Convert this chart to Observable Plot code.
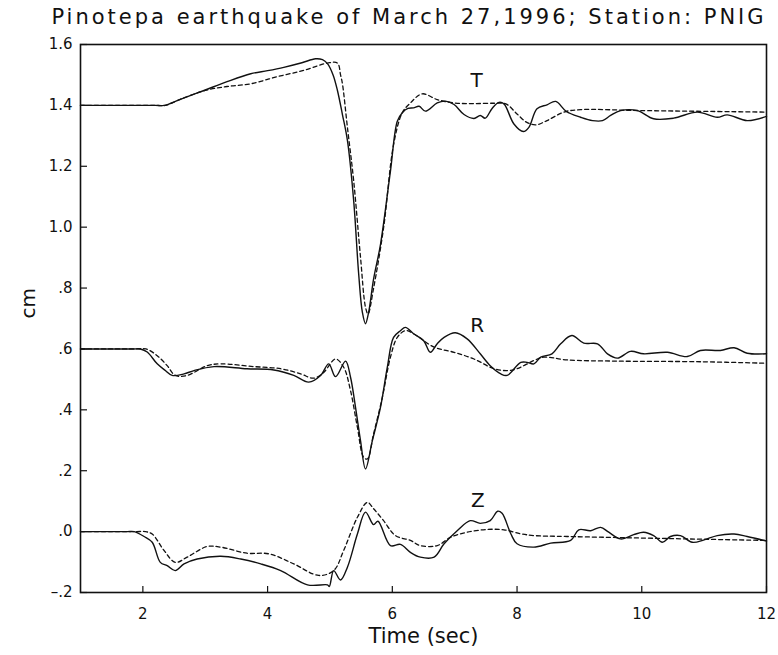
<!DOCTYPE html>
<html>
<head>
<meta charset="utf-8">
<script src="https://cdn.jsdelivr.net/npm/d3@7"></script>
<script src="https://cdn.jsdelivr.net/npm/@observablehq/plot@0.6"></script>
<style>
  body { margin: 0; background: #fff; }
  #title { width: 778px; height: 30px; box-sizing: border-box; padding-left: 40px; text-align: center;
           font-family: "DejaVu Sans", sans-serif; font-size: 21px; letter-spacing: 3px; line-height: 34px; color: #111; white-space: nowrap; }
  #chart svg { display: block; }
</style>
</head>
<body>
<div id="title">Pinotepa earthquake of March 27,1996; Station: PNIG</div>
<div id="chart"></div>
<script>
// ---- Data (time in sec, displacement in cm, with component offsets as plotted) ----
const obsT = [[1,1.4],[1.7,1.4],[2.2,1.4],[2.34,1.4],[2.6,1.42],[2.98,1.449],[3.35,1.478],[3.73,1.504],[4.0,1.514],[4.26,1.525],[4.55,1.54],[4.77,1.553],[4.88,1.55],[4.96,1.537],[5.05,1.5],[5.12,1.449],[5.2,1.37],[5.28,1.285],[5.38,1.088],[5.46,0.848],[5.52,0.72],[5.57,0.683],[5.62,0.72],[5.7,0.83],[5.81,0.943],[5.97,1.184],[6.08,1.348],[6.16,1.376],[6.25,1.39],[6.34,1.392],[6.43,1.397],[6.53,1.381],[6.72,1.408],[6.85,1.414],[6.99,1.403],[7.15,1.370],[7.31,1.357],[7.41,1.367],[7.49,1.358],[7.6,1.39],[7.71,1.410],[7.79,1.405],[7.95,1.339],[8.10,1.314],[8.19,1.328],[8.32,1.389],[8.48,1.402],[8.62,1.413],[8.79,1.380],[9.02,1.361],[9.21,1.350],[9.37,1.350],[9.50,1.367],[9.66,1.383],[9.93,1.383],[10.19,1.356],[10.51,1.358],[10.89,1.378],[11.21,1.361],[11.37,1.369],[11.69,1.350],[12,1.364]];
const synT = [[1,1.4],[1.7,1.4],[2.2,1.4],[2.36,1.4],[2.6,1.42],[3.0,1.449],[3.35,1.462],[3.73,1.471],[4.15,1.494],[4.58,1.515],[4.96,1.539],[5.12,1.539],[5.17,1.5],[5.2,1.471],[5.28,1.328],[5.38,1.153],[5.49,0.901],[5.57,0.737],[5.61,0.715],[5.7,0.8],[5.86,0.998],[6.02,1.271],[6.16,1.376],[6.29,1.408],[6.48,1.438],[6.72,1.419],[6.99,1.408],[7.3,1.406],[7.63,1.407],[7.82,1.405],[8.0,1.372],[8.15,1.345],[8.30,1.336],[8.48,1.350],[8.75,1.378],[9.02,1.386],[9.98,1.383],[12,1.378]];
const obsR = [[1,0.6],[1.5,0.6],[1.85,0.6],[1.96,0.6],[2.07,0.59],[2.23,0.551],[2.36,0.529],[2.47,0.513],[2.66,0.518],[2.82,0.529],[3.14,0.542],[3.67,0.535],[4.10,0.531],[4.42,0.513],[4.66,0.491],[4.85,0.513],[4.98,0.551],[5.09,0.509],[5.25,0.560],[5.33,0.507],[5.41,0.408],[5.49,0.299],[5.57,0.206],[5.68,0.299],[5.81,0.408],[5.92,0.540],[6.02,0.638],[6.13,0.660],[6.21,0.671],[6.34,0.650],[6.50,0.628],[6.61,0.589],[6.72,0.617],[6.83,0.638],[7.01,0.653],[7.20,0.633],[7.41,0.584],[7.57,0.545],[7.74,0.518],[7.84,0.513],[8.06,0.556],[8.16,0.556],[8.27,0.551],[8.38,0.573],[8.56,0.584],[8.70,0.617],[8.88,0.644],[9.07,0.619],[9.29,0.617],[9.45,0.584],[9.61,0.570],[9.82,0.592],[10.03,0.584],[10.41,0.589],[10.73,0.575],[10.94,0.595],[11.26,0.595],[11.48,0.604],[11.69,0.586],[12,0.584]];
const synR = [[1,0.6],[1.5,0.6],[1.9,0.6],[2.05,0.6],[2.23,0.578],[2.39,0.545],[2.52,0.513],[2.71,0.513],[3.03,0.545],[3.25,0.551],[3.78,0.542],[4.21,0.535],[4.53,0.518],[4.74,0.504],[4.90,0.523],[5.09,0.567],[5.22,0.540],[5.33,0.463],[5.44,0.343],[5.54,0.244],[5.60,0.239],[5.70,0.321],[5.84,0.441],[5.97,0.573],[6.08,0.638],[6.21,0.660],[6.34,0.650],[6.67,0.606],[6.99,0.589],[7.31,0.567],[7.63,0.535],[7.84,0.529],[8.00,0.535],[8.27,0.562],[8.43,0.573],[8.80,0.564],[9.61,0.560],[10.94,0.558],[12,0.553]];
const obsZ = [[1,0],[1.4,0],[1.75,0],[1.86,0],[2.02,-0.016],[2.15,-0.035],[2.28,-0.101],[2.39,-0.112],[2.52,-0.128],[2.66,-0.106],[2.87,-0.090],[3.25,-0.081],[3.57,-0.090],[3.89,-0.106],[4.21,-0.128],[4.64,-0.175],[4.96,-0.175],[4.99,-0.18],[5.06,-0.128],[5.17,-0.159],[5.28,-0.117],[5.44,-0.008],[5.57,0.064],[5.70,0.023],[5.77,0.034],[5.97,-0.046],[6.13,-0.042],[6.29,-0.068],[6.45,-0.084],[6.67,-0.084],[6.83,-0.040],[7.04,0.003],[7.25,0.036],[7.41,0.027],[7.57,0.036],[7.69,0.067],[7.76,0.06],[7.90,-0.007],[8.00,-0.040],[8.27,-0.051],[8.54,-0.038],[8.86,-0.029],[8.99,0.006],[9.18,0.003],[9.34,0.014],[9.47,-0.002],[9.66,-0.024],[9.87,-0.010],[10.03,-0.002],[10.19,-0.013],[10.33,-0.035],[10.46,-0.016],[10.62,-0.013],[10.81,-0.035],[11.00,-0.027],[11.21,-0.013],[11.48,-0.008],[11.69,-0.016],[12,-0.031]];
const synZ = [[1,0],[1.5,0],[1.9,0],[2.04,0],[2.15,-0.008],[2.34,-0.062],[2.52,-0.101],[2.71,-0.084],[3.03,-0.049],[3.25,-0.051],[3.67,-0.071],[4.02,-0.073],[4.42,-0.106],[4.82,-0.144],[5.06,-0.128],[5.22,-0.062],[5.44,0.047],[5.60,0.096],[5.70,0.075],[5.86,0.036],[6.05,-0.013],[6.29,-0.029],[6.45,-0.046],[6.72,-0.046],[6.93,-0.019],[7.20,-0.002],[7.52,0.007],[7.79,0.006],[8.06,-0.007],[8.27,-0.013],[8.80,-0.016],[12,-0.029]];

const componentNames = ["T", "R", "Z"];
const componentLabelTime = [7.35, 7.36, 7.37];
const componentLabelValue = [1.482, 0.677, 0.102];

const xTicks = [2, 4, 6, 8, 10, 12];
const yTicks = [1.6, 1.4, 1.2, 1.0, 0.8, 0.6, 0.4, 0.2, 0.0, -0.2];
const yTickLabels = ["1.6", "1.4", "1.2", "1.0", ".8", ".6", ".4", ".2", ".0", "\u2013.2"];

const labels = componentNames.map((n, i) => ({name: n, t: componentLabelTime[i], v: componentLabelValue[i]}));

const FONT = "DejaVu Sans, sans-serif";
const ink = "#111";
const lineOpts = {x: d => d[0], y: d => d[1], stroke: ink, strokeWidth: 1.4, curve: "catmull-rom"};
const dashOpts = {...lineOpts, strokeWidth: 1.3, strokeDasharray: "4,3"};

const chart = Plot.plot({
  width: 778,
  height: 625,
  marginTop: 14,
  marginBottom: 63,
  marginLeft: 80,
  marginRight: 12,
  style: {fontFamily: FONT, color: ink, background: "#fff"},
  x: {domain: [1, 12]},
  y: {domain: [-0.2, 1.6]},
  marks: [
    Plot.line(obsT, lineOpts),
    Plot.line(synT, dashOpts),
    Plot.line(obsR, lineOpts),
    Plot.line(synR, dashOpts),
    Plot.line(obsZ, lineOpts),
    Plot.line(synZ, dashOpts),
    Plot.text(labels, {x: "t", y: "v", text: "name", fontSize: 20, fill: ink}),
    Plot.frame({stroke: ink, strokeWidth: 1.6}),
    Plot.axisY(yTicks, {tickSize: -7, tickPadding: 15, tickFormat: d => yTickLabels[yTicks.indexOf(d)], fontSize: 15, label: null, strokeWidth: 1.2}),
    Plot.axisX(xTicks, {tickSize: -6, tickPadding: 22, tickFormat: d => String(d), fontSize: 15, label: null, strokeWidth: 1.2}),
    Plot.text(["cm"], {frameAnchor: "left", rotate: -90, dx: -52, fontSize: 20, fill: ink}),
    Plot.text(["Time (sec)"], {frameAnchor: "bottom", dy: 50, fontSize: 21, fill: ink})
  ]
});
document.getElementById("chart").appendChild(chart);
</script>
</body>
</html>
